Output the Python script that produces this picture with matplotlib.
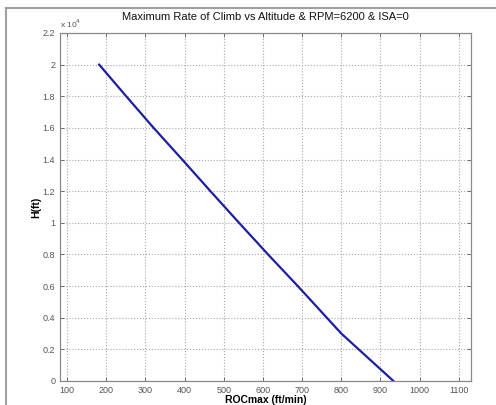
import matplotlib
matplotlib.use('Agg')
import matplotlib.pyplot as plt
from matplotlib.lines import Line2D
from matplotlib.ticker import FuncFormatter

plt.rcParams['font.family'] = ['Liberation Sans', 'DejaVu Sans']

# data
altitude_ft = [0, 3000, 4000, 6000, 8000, 10000, 12000, 14000, 16000, 18000, 20000]
roc_max = [933, 800, 763, 689, 613, 539, 466, 394, 321, 251, 182]

x_ticks = [100, 200, 300, 400, 500, 600, 700, 800, 900, 1000, 1100]
y_ticks = [0, 2000, 4000, 6000, 8000, 10000, 12000, 14000, 16000, 18000, 20000, 22000]

fig = plt.figure(figsize=(4.96, 4.05), dpi=100)
ax = fig.add_axes([60/496, 1 - 381/405, 411/496, 348/405])

ax.plot(roc_max, altitude_ft, color='#1f1f9e', lw=1.6)

ax.set_xlim(82, 1131)
ax.set_ylim(0, 22000)
ax.set_xticks(x_ticks)
ax.set_yticks(y_ticks)
ax.yaxis.set_major_formatter(FuncFormatter(lambda v, p: f'{v/1e4:g}'))

ax.grid(True, linestyle=':', color='#a8a8a8', lw=0.8)
ax.tick_params(direction='in', top=True, right=True, labelsize=6.5,
               labelcolor='#555555', color='#707070', length=3, width=0.7)
for s in ax.spines.values():
    s.set_color('#8a8a8a')
    s.set_linewidth(0.9)

ax.text(0.0, 1.008, r'x 10$^4$', transform=ax.transAxes, fontsize=6,
        color='#555555', ha='left', va='bottom')

ax.set_title('Maximum Rate of Climb vs Altitude & RPM=6200 & ISA=0',
             fontsize=8, color='#111111', pad=9)
ax.set_xlabel('ROCmax (ft/min)', fontsize=7.5, fontweight='bold', labelpad=0)
ax.set_ylabel('H(ft)', fontsize=7.5, fontweight='bold', labelpad=1)

# window frame
fig.add_artist(Line2D([6/496, 6/496], [0, 1 - 8/405], color='#a0a0a0', lw=1.5))
fig.add_artist(Line2D([6/496, 1], [1 - 8/405, 1 - 8/405], color='#a0a0a0', lw=1.5))

fig.savefig('out.png', dpi=100)
